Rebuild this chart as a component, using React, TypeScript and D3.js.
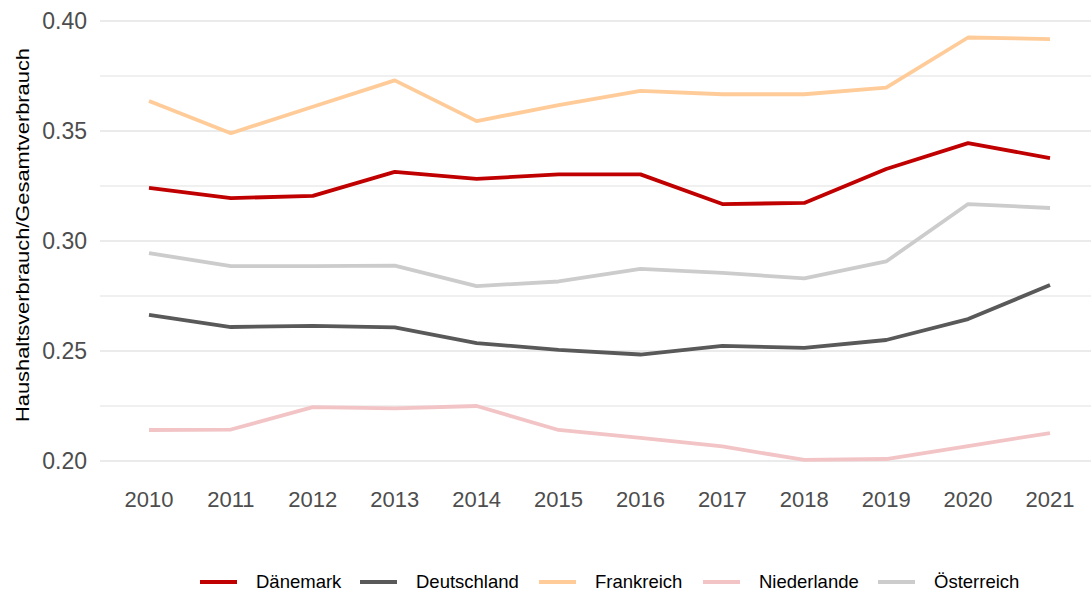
import React from 'react'
import * as d3 from 'd3';

const years = [2010, 2011, 2012, 2013, 2014, 2015, 2016, 2017, 2018, 2019, 2020, 2021];
const countries = ['Dänemark', 'Deutschland', 'Frankreich', 'Niederlande', 'Österreich'];
const colors = ['#c00000', '#595959', '#ffcc99', '#f2c4c6', '#cccccc'];

const daenemark = [0.3241, 0.3195, 0.3205, 0.3314, 0.3282, 0.3303, 0.3303, 0.3168, 0.3173, 0.3327, 0.3445, 0.3377];
const deutschland = [0.2664, 0.2609, 0.2614, 0.2607, 0.2536, 0.2505, 0.2484, 0.2523, 0.2514, 0.2550, 0.2645, 0.2800];
const frankreich = [0.3636, 0.3490, 0.3610, 0.3730, 0.3545, 0.3618, 0.3682, 0.3667, 0.3667, 0.3697, 0.3925, 0.3918];
const niederlande = [0.2141, 0.2143, 0.2245, 0.2239, 0.2250, 0.2141, 0.2105, 0.2066, 0.2005, 0.2009, 0.2068, 0.2127];
const oesterreich = [0.2945, 0.2886, 0.2886, 0.2888, 0.2795, 0.2816, 0.2873, 0.2855, 0.2830, 0.2907, 0.3168, 0.3150];

const series = [daenemark, deutschland, frankreich, niederlande, oesterreich];
const yTicks = [0.20, 0.25, 0.30, 0.35, 0.40];
const yMinor = [0.225, 0.275, 0.325, 0.375];

const App: React.FC = () => {
  const width = 1091;
  const height = 594;
  const left = 100;
  const right = 1091;

  const x = d3.scaleLinear().domain([2010, 2021]).range([149, 1050]);
  const y = d3.scaleLinear().domain([0.2, 0.4]).range([461, 21]);

  const line = d3.line<number>()
    .x((_, i) => x(years[i]))
    .y(d => y(d));

  // legend key positions, text sits 56px to the right
  const legendX = [200, 360, 539, 703, 878];

  return (
    <svg width={width} height={height} style={{ position: 'absolute', left: 0, top: 0 }}
      fontFamily="'Liberation Sans', Arial, sans-serif">
      <rect width={width} height={height} fill='white' />
      {yMinor.map(v => (
        <line key={'m' + v} x1={left} x2={right} y1={y(v)} y2={y(v)} stroke='#ebebeb' strokeWidth={1.5} />
      ))}
      {yTicks.map(v => (
        <line key={'g' + v} x1={left} x2={right} y1={y(v)} y2={y(v)} stroke='#ebebeb' strokeWidth={2} />
      ))}
      {yTicks.map(v => (
        <text key={'t' + v} x={87} y={y(v)} dy='0.35em' textAnchor='end' fontSize={23} fill='#4d4d4d'>
          {d3.format('.2f')(v)}
        </text>
      ))}
      {years.map(yr => (
        <text key={yr} x={x(yr)} y={507} textAnchor='middle' fontSize={22} fill='#4d4d4d'>{yr}</text>
      ))}
      <text transform={`translate(29, 235) rotate(-90)`} textAnchor='middle' fontSize={17.5} fill='black'
        textLength={374} lengthAdjust='spacingAndGlyphs'>
        Haushaltsverbrauch/Gesamtverbrauch
      </text>
      {series.map((s, i) => (
        <path key={countries[i]} d={line(s) ?? ''} fill='none' stroke={colors[i]} strokeWidth={3.8}
          strokeLinejoin='round' />
      ))}
      {countries.map((c, i) => (
        <g key={c} transform={`translate(${legendX[i]}, 582)`}>
          <line x1={0} x2={37} y1={0} y2={0} stroke={colors[i]} strokeWidth={3.8} />
          <text x={56} y={0} dy='0.35em' fontSize={18.5} fill='black'>{c}</text>
        </g>
      ))}
    </svg>
  )
}

export default App
